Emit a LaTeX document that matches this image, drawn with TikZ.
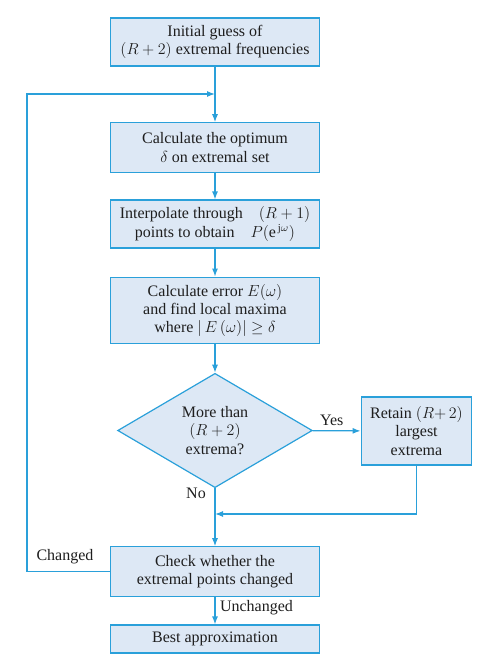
\documentclass[tikz,border=0pt]{standalone}
\usepackage{fontspec}
\setmainfont{Liberation Serif}
\usetikzlibrary{shapes.geometric,arrows.meta}
\definecolor{flowline}{RGB}{42,160,218}
\definecolor{flowfill}{RGB}{221,232,245}
\definecolor{flowtext}{RGB}{30,30,30}
\tikzset{
	stepbox/.style={draw=flowline, fill=flowfill, line width=0.9pt, text=flowtext,
		minimum width=157pt, align=center, inner sep=2pt, font=\fontsize{12}{13.8}\selectfont},
	testbox/.style={diamond, draw=flowline, fill=flowfill, line width=0.9pt, text=flowtext,
		minimum width=146pt, minimum height=82pt, align=center, inner sep=0pt, font=\fontsize{12}{13.8}\selectfont},
	flow/.style={draw=flowline, line width=0.9pt, -{Latex[length=6pt,width=4.5pt]}},
	tag/.style={text=flowtext, font=\fontsize{12}{13.8}\selectfont},
}
\begin{document}
\begin{tikzpicture}[x=0.75pt,y=-0.75pt]
	%%%%% START %%%%%
	\useasboundingbox (0,0) rectangle (480,662);
	
	\node[stepbox, minimum height=36pt] (init) at (215,42) {Initial guess of\\$(R+2)$ extremal frequencies};
	\node[stepbox, minimum height=37pt] (optim) at (215,147.5) {Calculate the optimum\\$\delta$ on extremal set};
	\node[stepbox, minimum height=36pt] (interp) at (215,224) {Interpolate through\quad $(R+1)$\\points to obtain\quad $P(\mathrm{e}^{\,\mathrm{j}\omega})$};
	\node[stepbox, minimum height=50pt] (error) at (215,310.5) {Calculate error $E(\omega)$\\and find local maxima\\where $|\,E\,(\omega)|\geq\delta$};
	\node[testbox] (test) at (215,430.5) {More than\\$(R+2)$\\extrema?};
	\node[stepbox, minimum width=83pt, minimum height=51pt] (retain) at (416.5,431) {Retain $(R{+}\,2)$\\largest\\extrema};
	\node[stepbox, minimum height=37pt] (check) at (215,571.5) {Check whether the\\extremal points changed};
	\node[stepbox, minimum height=21pt] (best) at (215,639) {Best approximation};
	
	\coordinate (loopin) at (215,94);
	\coordinate (loopcorner) at (27,94);
	\coordinate (merge) at (215,514);
	
	\draw[flow] (init) -- (optim);
	\draw[flow] (optim) -- (interp);
	\draw[flow] (interp) -- (error);
	\draw[flow] (error) -- (test);
	\draw[flow] (test) -- node[tag, above, pos=0.4] {Yes} (retain);
	\draw[flow] (test) -- (check);
	\draw[flow] (retain) |- (merge);
	\draw[flow] (check) -- node[tag, right, pos=0.4] {Unchanged} (best);
	\draw[flow] (check.west) -| (loopcorner) -- (loopin);
	
	\node[tag] (no) at (196,493) {No};
	\node[tag] (changed) at (65,557) {Changed};
	%%%%% END %%%%%
\end{tikzpicture}
\end{document}
